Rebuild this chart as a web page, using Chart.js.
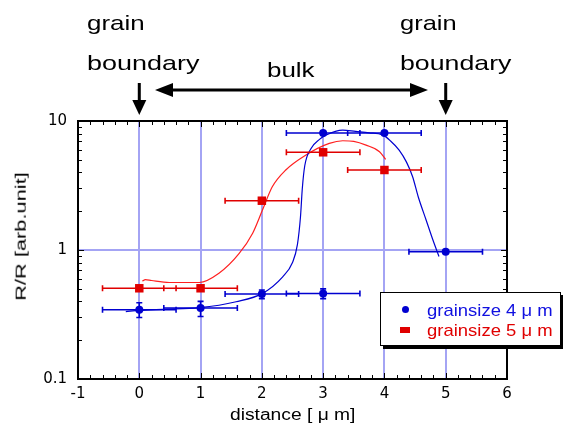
<!DOCTYPE html>
<html>
<head>
<meta charset="utf-8">
<script src="https://cdn.jsdelivr.net/npm/chart.js@4.4.1/dist/chart.umd.min.js"></script>
<style>
  html, body { margin: 0; padding: 0; background: #fff; }
  #wrap { position: relative; width: 563px; height: 424px; overflow: hidden; }
  #chart { position: absolute; left: 0; top: 0; }
  .t { position: absolute; white-space: nowrap; font-family: "Liberation Sans", Arial, sans-serif;
       line-height: 1; transform-origin: 0 0; color: #000; }
  #legend { position: absolute; left: 380px; top: 292px; width: 179px; height: 52px;
            border: 1.5px solid #000; box-shadow: 3px 3px 0 #000; background: #fff; }
  .mk { position: absolute; }
</style>
</head>
<body>
<div id="wrap">
  <canvas id="chart" width="563" height="424"></canvas>

  <div class="t fit" data-w="58" style="left:87px;top:12px;font-size:21px;">grain</div>
  <div class="t fit" data-w="113" style="left:87px;top:52px;font-size:21px;">boundary</div>
  <div class="t fit" data-w="48" style="left:267px;top:60px;font-size:20px;">bulk</div>
  <div class="t fit" data-w="57" style="left:400px;top:12px;font-size:21px;">grain</div>
  <div class="t fit" data-w="112" style="left:400px;top:52px;font-size:21px;">boundary</div>

  <div id="legend"></div>
  <div class="mk" style="left:402px;top:306px;width:7px;height:7px;border-radius:50%;background:#0000d0;"></div>
  <div class="mk" style="left:400px;top:327px;width:10px;height:6px;background:#e00000;"></div>
  <div class="t fit" data-w="126" style="left:427px;top:302px;font-size:17px;color:#1010e0;">grainsize 4 μ m</div>
  <div class="t fit" data-w="126" style="left:427px;top:322px;font-size:17px;color:#e00000;">grainsize 5 μ m</div>

  <div class="t fit" data-w="125" style="left:230px;top:407px;font-size:16px;">distance [ μ m]</div>
  <div class="t" id="ylab" style="font-size:15px;">R/R [arb.unit]</div>
</div>

<script>
// measured points
const blueX = [0, 1, 2, 3, 3, 4, 5];
const blueY = [0.344, 0.355, 0.456, 0.46, 8.07, 8.07, 0.97];
const blueXErr = [0.6, 0.6, 0.6, 0.6, 0.6, 0.6, 0.6];
const blueYLow = [0.30, 0.305, 0.42, 0.42, 8.07, 8.07, 0.97];
const blueYHigh = [0.39, 0.40, 0.49, 0.50, 8.07, 8.07, 0.97];

const redX = [0, 1, 2, 3, 4];
const redY = [0.505, 0.505, 2.41, 5.72, 4.17];
const redXErr = [0.6, 0.6, 0.6, 0.6, 0.6];
const redYLow = [0.48, 0.48, 2.41, 5.72, 4.17];
const redYHigh = [0.53, 0.53, 2.41, 5.72, 4.17];

// guide curves
const blueCurveX = [-0.22, 0.0, 0.38, 0.98, 1.58, 2.01, 2.34, 2.5, 2.58, 2.63, 2.66, 2.7, 2.8, 2.94, 3.05, 3.32, 3.53, 3.75, 3.97, 4.1, 4.24, 4.36, 4.46, 4.55, 4.68, 4.79, 4.89];
const blueCurveY = [0.333, 0.34, 0.347, 0.357, 0.397, 0.461, 0.62, 0.8, 1.1, 1.8, 3.0, 4.5, 6.1, 7.2, 7.8, 8.5, 8.3, 8.1, 7.8, 7.0, 5.95, 4.8, 3.7, 2.6, 1.71, 1.2, 0.89];

const redCurveX = [0.05, 0.1, 0.2, 0.49, 0.98, 1.3, 1.63, 1.85, 2.01, 2.17, 2.39, 2.72, 3.1, 3.32, 3.5, 3.7, 3.92, 4.02];
const redCurveY = [0.575, 0.59, 0.58, 0.56, 0.56, 0.66, 0.94, 1.35, 2.04, 3.09, 4.17, 5.45, 6.7, 7.03, 6.95, 6.5, 5.78, 5.04];

const xTicks = [-1, 0, 1, 2, 3, 4, 5, 6];
const yTickLabels = [0.1, 1, 10];

const BLUE = "#0000d0";
const RED = "#e00000";
const GRID = "#a4a4f4";

const zip = (xs, ys) => xs.map((v, i) => ({ x: v, y: ys[i] }));

function drawErrors(ctx, x, y, xs, ys, xe, ylo, yhi, color) {
    ctx.save();
    ctx.strokeStyle = color;
    ctx.lineWidth = 1.6;
    ctx.beginPath();
    xs.forEach((v, i) => {
        const py = y.getPixelForValue(ys[i]);
        const p0 = x.getPixelForValue(v - xe[i]);
        const p1 = x.getPixelForValue(v + xe[i]);
        ctx.moveTo(p0, py); ctx.lineTo(p1, py);
        ctx.moveTo(p0, py - 3); ctx.lineTo(p0, py + 3);
        ctx.moveTo(p1, py - 3); ctx.lineTo(p1, py + 3);
        const px = x.getPixelForValue(v);
        const pl = y.getPixelForValue(ylo[i]);
        const ph = y.getPixelForValue(yhi[i]);
        if (pl - ph > 1) {
            ctx.moveTo(px, pl); ctx.lineTo(px, ph);
            ctx.moveTo(px - 3, pl); ctx.lineTo(px + 3, pl);
            ctx.moveTo(px - 3, ph); ctx.lineTo(px + 3, ph);
        }
    });
    ctx.stroke();
    ctx.restore();
}

const errorBars = {
    id: "errorBars",
    afterDatasetDraw(chart, args) {
        if (args.index !== 2) return;
        const { ctx, scales: { x, y } } = chart;
        drawErrors(ctx, x, y, redX, redY, redXErr, redYLow, redYHigh, RED);
        drawErrors(ctx, x, y, blueX, blueY, blueXErr, blueYLow, blueYHigh, BLUE);
    }
};

function downArrow(ctx, cx) {
    ctx.fillRect(cx - 1.5, 83, 3, 18);
    ctx.beginPath();
    ctx.moveTo(cx - 7, 100); ctx.lineTo(cx + 7, 100); ctx.lineTo(cx, 115);
    ctx.closePath(); ctx.fill();
}

const frame = {
    id: "frame",
    afterDraw(chart) {
        const { ctx, chartArea: a, scales: { x, y } } = chart;
        ctx.save();
        ctx.strokeStyle = "#000";
        ctx.lineWidth = 1;
        ctx.beginPath();
        // x ticks, every 0.2
        for (let k = 0; k <= 35; k++) {
            const v = -1 + k * 0.2;
            const px = Math.round(x.getPixelForValue(v)) + 0.5;
            const len = k % 5 === 0 ? 6 : 4;
            ctx.moveTo(px, a.bottom); ctx.lineTo(px, a.bottom - len);
            ctx.moveTo(px, a.top); ctx.lineTo(px, a.top + len);
        }
        // y ticks, 1..9 per decade
        for (let e = -1; e <= 1; e++) {
            for (let d = 1; d <= 9; d++) {
                const v = d * Math.pow(10, e);
                if (v > 10.0001) break;
                const py = Math.round(y.getPixelForValue(v)) + 0.5;
                const len = d === 1 ? 6 : 4;
                ctx.moveTo(a.left, py); ctx.lineTo(a.left + len, py);
                ctx.moveTo(a.right, py); ctx.lineTo(a.right - len, py);
            }
        }
        ctx.stroke();
        ctx.lineWidth = 2;
        ctx.strokeRect(a.left, a.top, a.right - a.left, a.bottom - a.top);

        // annotation arrows
        ctx.fillStyle = "#000";
        downArrow(ctx, x.getPixelForValue(0));
        downArrow(ctx, x.getPixelForValue(5));
        const yA = 90, xl = 155, xr = 428;
        ctx.fillRect(xl + 10, yA - 1.5, xr - xl - 20, 3);
        ctx.beginPath();
        ctx.moveTo(xl, yA); ctx.lineTo(xl + 18, yA - 7); ctx.lineTo(xl + 18, yA + 7); ctx.closePath();
        ctx.moveTo(xr, yA); ctx.lineTo(xr - 18, yA - 7); ctx.lineTo(xr - 18, yA + 7); ctx.closePath();
        ctx.fill();
        ctx.restore();
    }
};

const tickFont = { family: "DejaVu Sans", size: 15 };

new Chart(document.getElementById("chart"), {
    type: "scatter",
    data: {
        datasets: [
            {
                data: zip(blueX, blueY),
                pointStyle: "circle", pointRadius: 4, pointHoverRadius: 4,
                backgroundColor: BLUE, borderColor: BLUE, borderWidth: 0,
            },
            {
                data: zip(redX, redY),
                pointStyle: "rect", pointRadius: 6, pointHoverRadius: 6,
                backgroundColor: RED, borderColor: RED, borderWidth: 0,
            },
            {
                data: zip(blueCurveX, blueCurveY),
                showLine: true, pointRadius: 0, borderColor: BLUE, borderWidth: 1.2,
                cubicInterpolationMode: "monotone",
            },
            {
                data: zip(redCurveX, redCurveY),
                showLine: true, pointRadius: 0, borderColor: "#ff2020", borderWidth: 1.2,
                cubicInterpolationMode: "monotone",
            },
        ],
    },
    options: {
        responsive: false,
        animation: false,
        events: [],
        layout: { padding: { top: 121, right: 56, left: 0, bottom: 0 } },
        plugins: { legend: { display: false }, tooltip: { enabled: false } },
        scales: {
            x: {
                type: "linear", min: -1, max: 6,
                afterFit(s) { s.height = 45; },
                afterBuildTicks(s) { s.ticks = xTicks.map(v => ({ value: v })); },
                border: { display: false },
                grid: {
                    drawTicks: false, lineWidth: 2,
                    color: c => (c.tick && c.tick.value >= 0 && c.tick.value <= 5 ? GRID : "rgba(0,0,0,0)"),
                },
                ticks: { padding: 6, color: "#000", font: tickFont, maxRotation: 0 },
            },
            y: {
                type: "logarithmic", min: 0.1, max: 10,
                afterFit(s) { s.width = 78; },
                afterBuildTicks(s) { s.ticks = yTickLabels.map(v => ({ value: v })); },
                border: { display: false },
                grid: {
                    drawTicks: false, lineWidth: 2,
                    color: c => (c.tick && Math.abs(c.tick.value - 1) < 1e-9 ? GRID : "rgba(0,0,0,0)"),
                },
                ticks: {
                    padding: 11, color: "#000", font: tickFont,
                    callback: v => String(v),
                },
            },
        },
    },
    plugins: [errorBars, frame],
});

// stretch the labels to the widths seen in the picture
document.querySelectorAll(".fit").forEach(el => {
    const r = Number(el.dataset.w) / el.offsetWidth;
    el.style.transform = "scaleX(" + r + ")";
});
const yl = document.getElementById("ylab");
const r = 128 / yl.offsetWidth;
yl.style.left = (20 - yl.offsetWidth / 2) + "px";
yl.style.top = (236 - yl.offsetHeight / 2) + "px";
yl.style.transformOrigin = "50% 50%";
yl.style.transform = "rotate(-90deg) scaleX(" + r + ")";
</script>
</body>
</html>
